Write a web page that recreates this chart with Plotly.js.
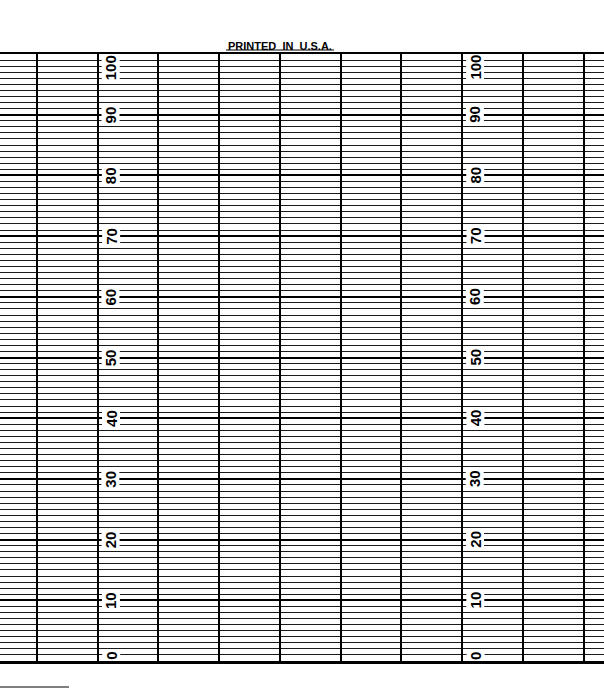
<!DOCTYPE html>
<html>
<head>
<meta charset="utf-8">
<script src="https://cdn.plot.ly/plotly-3.0.1.min.js"></script>
<style>
  html, body { margin: 0; padding: 0; background: #ffffff; }
  #chart { width: 604px; height: 700px; }
</style>
</head>
<body>
<div id="chart"></div>
<script>
// Strip-chart paper: time divisions (vertical lines) and 0-100 scale
const timeLines = [0, 1, 2, 3, 4, 5, 6, 7, 8, 9];
const scaleValues = [0, 10, 20, 30, 40, 50, 60, 70, 80, 90, 100];
const scaleLabels = ['0', '10', '20', '30', '40', '50', '60', '70', '80', '90', '100'];
const labelColumns = [1, 7];
const footerText = '<b>PRINTED&nbsp; IN&nbsp; U.S.A.</b>';

const TOP = 54, BOTTOM = 39;
const plotH = 700 - TOP - BOTTOM;

const annotations = [];
labelColumns.forEach(col => {
  scaleValues.forEach((v, i) => {
    annotations.push({
      x: col, y: v, xref: 'x', yref: 'y',
      text: scaleLabels[i],
      textangle: -90,
      showarrow: false,
      xanchor: 'center',
      yanchor: v === 100 ? 'top' : (v === 0 ? 'bottom' : 'middle'),
      xshift: 13,
      yshift: 0,
      bgcolor: '#ffffff',
      borderpad: 0,
      font: { family: 'Liberation Sans, Arial, sans-serif', size: 15, color: '#000000', weight: 'bold' }
    });
  });
});

annotations.push({
  x: 280 / 604, y: 1, xref: 'paper', yref: 'paper',
  text: footerText,
  showarrow: false,
  xanchor: 'center', yanchor: 'bottom',
  yshift: 0,
  font: { family: 'Liberation Sans, Arial, sans-serif', size: 11, color: '#000000' }
});

const data = [{
  type: 'scatter',
  x: timeLines,
  y: timeLines.map(() => 50),
  mode: 'markers',
  marker: { opacity: 0 },
  hoverinfo: 'skip',
  showlegend: false
}];

const layout = {
  width: 604,
  height: 700,
  margin: { l: 0, r: 0, t: TOP, b: BOTTOM, pad: 0 },
  paper_bgcolor: '#ffffff',
  plot_bgcolor: '#ffffff',
  showlegend: false,
  xaxis: {
    range: [-37 / 60.73, (604 - 37) / 60.73],
    tickmode: 'array',
    tickvals: timeLines,
    showticklabels: false,
    ticks: '',
    showgrid: true,
    gridcolor: '#000000',
    gridwidth: 2,
    zeroline: true,
    zerolinecolor: '#000000',
    zerolinewidth: 2,
    showline: true,
    mirror: true,
    linecolor: '#000000',
    linewidth: 2.5,
    fixedrange: true
  },
  yaxis: {
    range: [0, 100],
    tickmode: 'linear',
    tick0: 0,
    dtick: 10,
    showticklabels: false,
    ticks: '',
    showgrid: true,
    gridcolor: '#000000',
    gridwidth: 2,
    zeroline: false,
    showline: false,
    minor: { dtick: 1, showgrid: true, gridcolor: '#1a1a1a', gridwidth: 1, ticks: '' },
    fixedrange: true
  },
  shapes: [
    { type: 'line', xref: 'paper', yref: 'paper', x0: 226 / 604, x1: 334 / 604,
      y0: (700 - BOTTOM - 50) / plotH, y1: (700 - BOTTOM - 50) / plotH,
      line: { color: '#000000', width: 1 } },
    { type: 'line', xref: 'paper', yref: 'paper', x0: 0, x1: 69 / 604,
      y0: (700 - BOTTOM - 687) / plotH, y1: (700 - BOTTOM - 687) / plotH,
      line: { color: '#000000', width: 1 } }
  ],
  annotations: annotations
};

Plotly.newPlot('chart', data, layout, { displayModeBar: false, staticPlot: true });
</script>
</body>
</html>
